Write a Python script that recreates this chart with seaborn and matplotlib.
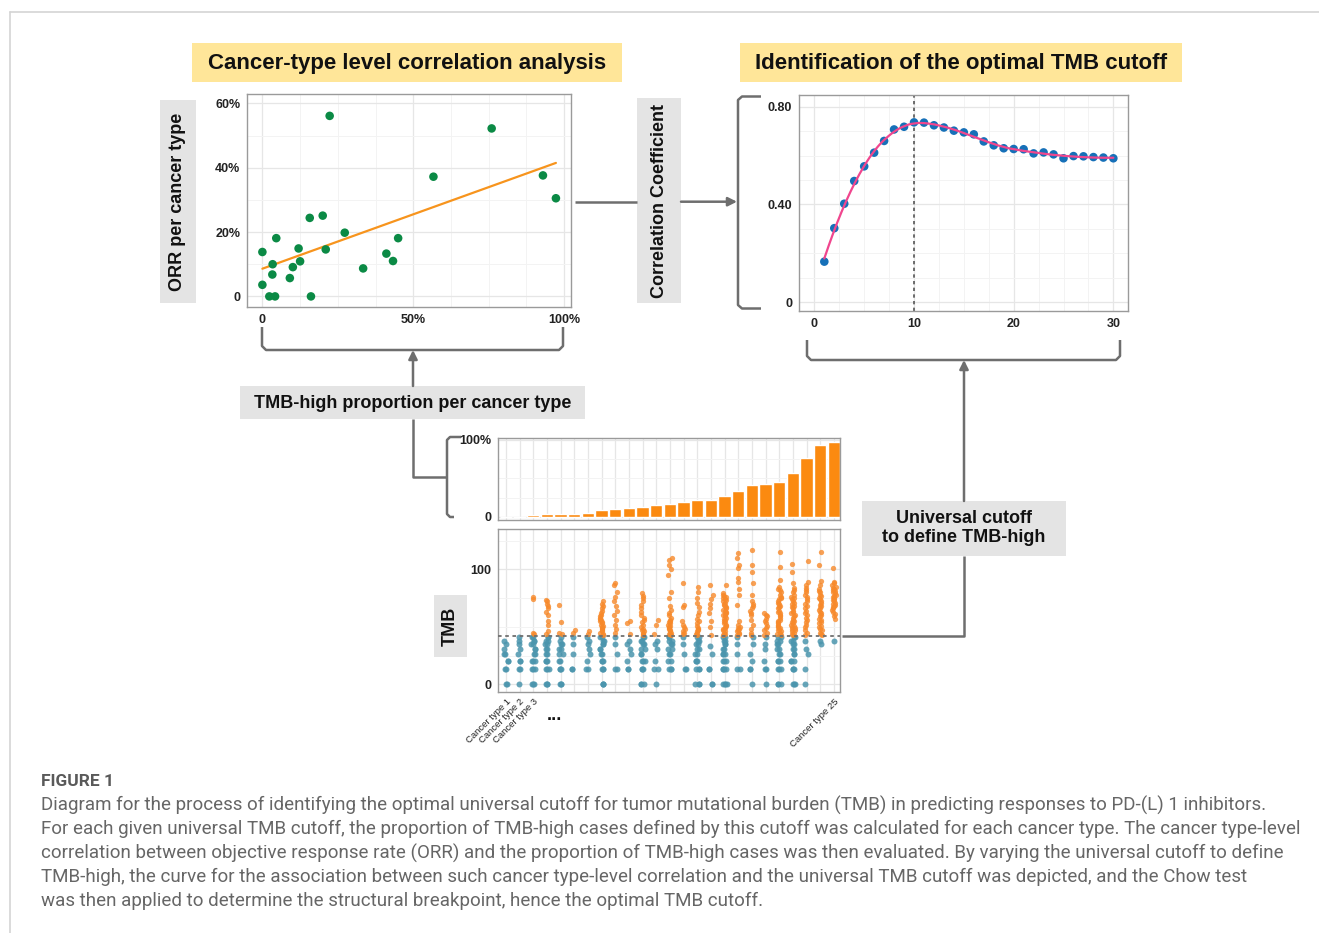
import numpy as np
import pandas as pd
import matplotlib
matplotlib.use("Agg")
import matplotlib.pyplot as plt
import matplotlib.patches as mpatches
from matplotlib.ticker import MultipleLocator, FixedLocator
import seaborn as sns

sns.set_theme(style="white")
plt.rcParams['font.family'] = ['Liberation Sans', 'DejaVu Sans']

# ---------------- data ----------------
# scatter: TMB-high proportion (%) vs ORR (%) per cancer type
tmb_high_prop = [0, 0, 2.3, 4.2, 3.4, 3.3, 4.6, 9.1, 10.1, 12.0, 12.5, 15.7, 16.1,
                 20.0, 21.0, 22.3, 27.3, 33.4, 41.1, 43.3, 45.0, 56.7, 76.0, 93.0, 97.3]
orr_per_type = [13.8, 3.6, 0, 0, 10.0, 6.8, 18.1, 5.7, 9.1, 14.9, 10.9, 24.4, 0,
                25.1, 14.6, 56.1, 19.8, 8.7, 13.3, 11.0, 18.1, 37.2, 52.2, 37.6, 30.5]

# correlation coefficient vs universal TMB cutoff
cutoffs = list(range(1, 31))
corr_coef = [0.166, 0.303, 0.403, 0.496, 0.556, 0.612, 0.660, 0.707, 0.718, 0.736,
             0.735, 0.724, 0.715, 0.702, 0.695, 0.687, 0.658, 0.642, 0.630, 0.627,
             0.626, 0.609, 0.613, 0.605, 0.589, 0.598, 0.597, 0.594, 0.592, 0.589]
optimal_cutoff = 10

# bar chart: TMB-high proportion per cancer type (%)
bar_props = [0, 0, 2.2, 3.0, 3.0, 3.9, 4.8, 8.7, 9.6, 11.7, 12.2, 15.2, 16.1,
             19.6, 21.3, 22.2, 27.0, 33.0, 41.3, 43.0, 44.8, 56.5, 76.1, 93.0, 97.0]
cancer_types = [f"Cancer type {i}" for i in range(1, 26)]
shown_labels = ["Cancer type 1", "Cancer type 2", "Cancer type 3", "Cancer type 25"]

# strip chart: TMB values per cancer type (display scale)
tmb_cut_display = 42.3
tmb_low = [
    [0, 0, 13, 13, 20, 20, 26, 26, 31, 35, 38],
    [0, 13, 13, 20, 20, 26, 31, 35, 38, 41],
    [0, 0, 0, 13, 13, 13, 20, 20, 20, 26, 26, 31, 31, 35, 35, 38, 38, 41, 41],
    [0, 0, 0, 13, 13, 13, 20, 20, 20, 26, 26, 31, 31, 35, 35, 38, 38, 41, 41],
    [0, 0, 0, 13, 13, 13, 20, 20, 26, 26, 31, 31, 35, 35, 38, 41],
    [13, 13, 26, 35, 41],
    [13, 13, 20, 26, 31, 35, 38, 41],
    [0, 0, 0, 13, 13, 13, 20, 20, 20, 26, 26, 31, 31, 35, 35, 38, 38, 41, 41],
    [13, 13, 26, 35, 41],
    [13, 13, 20, 26, 31, 35, 38],
    [0, 0, 0, 13, 13, 13, 20, 20, 20, 26, 26, 31, 31, 35, 35, 38, 38, 41, 41],
    [0, 13, 13, 20, 31, 35, 38],
    [13, 13, 13, 20, 20, 26, 26, 31, 31, 35, 35, 38, 38, 41, 41],
    [13, 13, 26, 35, 41],
    [0, 0, 0, 13, 13, 13, 20, 20, 20, 26, 26, 31, 31, 35, 35, 38, 38, 41, 41],
    [0, 0, 13, 13, 26, 33],
    [0, 0, 0, 0, 13, 13, 13, 13, 20, 20, 20, 26, 26, 26, 31, 31, 35, 35, 38, 38, 41, 41],
    [13, 13, 26, 35, 41],
    [0, 13, 13, 20, 26, 35, 41],
    [0, 13, 13, 20, 31, 35, 41],
    [0, 0, 0, 13, 13, 13, 20, 20, 20, 26, 26, 31, 31, 35, 35, 38, 38, 41, 41],
    [0, 0, 0, 13, 13, 13, 20, 20, 20, 26, 26, 31, 31, 35, 35, 38, 38, 41, 41],
    [0, 13, 26, 31, 38],
    [35, 38],
    [38],
]
tmb_high = [
    [],
    [],
    [44, 45, 74, 76],
    [44, 46, 52, 55, 60, 63, 66, 68, 70, 72, 73],
    [44, 45, 54, 69],
    [45, 47],
    [44, 46],
    [43, 44, 45, 46, 47, 48, 49, 50, 51, 52, 53, 54, 55, 56, 57, 58, 59, 60, 62, 64, 66, 68, 70, 72],
    [45, 48, 52, 56, 60, 64, 68, 72, 76, 80, 86, 88],
    [44, 53, 55],
    [43, 44, 45, 46, 47, 48, 50, 52, 54, 56, 58, 60, 63, 66, 69, 72, 75, 77, 79],
    [44, 52, 56],
    [43, 43.5, 44, 45, 46, 47, 48, 49, 50, 51, 52, 53, 54, 55, 56, 58, 60, 62, 65, 68,
     75, 80, 95, 100, 104, 108, 110],
    [44, 45, 46, 48, 50, 52, 55, 67, 69, 88],
    [43, 44, 45, 46, 47, 48, 49, 51, 53, 55, 57, 60, 63, 67, 71, 75, 80, 85],
    [43, 50, 55, 62, 66, 70, 74, 78, 86],
    [43, 44, 45, 46, 47, 48, 49, 50, 51, 52, 53, 54, 55, 56, 57, 58, 59, 60, 61, 62, 63,
     64, 65, 66, 67, 68, 69, 70, 71, 72, 73, 74, 75, 76, 77, 78, 79, 86],
    [43, 44, 45, 46, 47, 48, 49, 50, 52, 55, 69, 78, 83, 89, 92, 101, 104, 110, 114],
    [43, 45, 48, 52, 56, 60, 62, 64, 66, 68, 70, 72, 78, 88, 98, 104, 117],
    [43, 45, 47, 49, 51, 53, 55, 57, 59, 60, 62],
    [43, 44, 45, 46, 47, 48, 49, 50, 51, 52, 53, 54, 55, 56, 58, 59, 60, 62, 63, 64, 66,
     67, 68, 70, 71, 72, 74, 75, 76, 78, 80, 82, 83, 85, 91, 102, 115],
    [43, 44, 45, 46, 47, 48, 49, 50, 51, 52, 53, 54, 55, 56, 58, 59, 60, 62, 63, 64, 66,
     67, 68, 70, 71, 72, 74, 75, 76, 78, 80, 82, 84, 88, 98, 105],
    [43, 45, 47, 50, 52, 54, 56, 58, 60, 62, 64, 66, 68, 70, 72, 74, 76, 78, 80, 82, 84,
     86, 89, 107],
    [43, 44, 45, 47, 48, 50, 51, 53, 54, 56, 57, 59, 60, 62, 63, 65, 66, 68, 69, 71, 72,
     74, 75, 77, 78, 80, 81, 83, 86, 90, 104, 115],
    [57, 59, 61, 63, 65, 66, 67, 68, 69, 70, 71, 72, 73, 74, 75, 76, 77, 78, 79, 80, 81,
     82, 83, 84, 85, 86, 88, 89, 101],
]

caption_title = "FIGURE 1"
caption_lines = [
    "Diagram for the process of identifying the optimal universal cutoff for tumor mutational burden (TMB) in predicting responses to PD-(L) 1 inhibitors.",
    "For each given universal TMB cutoff, the proportion of TMB-high cases defined by this cutoff was calculated for each cancer type. The cancer type-level",
    "correlation between objective response rate (ORR) and the proportion of TMB-high cases was then evaluated. By varying the universal cutoff to define",
    "TMB-high, the curve for the association between such cancer type-level correlation and the universal TMB cutoff was depicted, and the Chow test",
    "was then applied to determine the structural breakpoint, hence the optimal TMB cutoff.",
]

# ---------------- figure ----------------
W, H = 1319, 933
fig = plt.figure(figsize=(W / 100, H / 100), dpi=100)
fig.patch.set_facecolor("white")

ov = fig.add_axes([0, 0, 1, 1])
ov.set_xlim(0, W)
ov.set_ylim(H, 0)
ov.axis("off")

def ax_px(x0, y0, x1, y1):
    return fig.add_axes([x0 / W, 1 - y1 / H, (x1 - x0) / W, (y1 - y0) / H])

GRID_MAJ = "#e6e6e6"
GRID_MIN = "#f3f3f3"
SPINE = "#9a9a9a"
TICKC = "#222222"
TICKFS = 9

def style(ax, fs=TICKFS):
    ax.set_facecolor("white")
    for s in ax.spines.values():
        s.set_color(SPINE)
        s.set_linewidth(1.0)
        s.set_visible(True)
    ax.grid(True, which="major", color=GRID_MAJ, lw=0.9)
    ax.grid(True, which="minor", color=GRID_MIN, lw=0.7)
    ax.set_axisbelow(True)
    ax.tick_params(axis="both", which="major", length=3, width=0.8, color="#777777",
                   labelsize=fs, labelcolor=TICKC, pad=2)
    ax.tick_params(axis="both", which="minor", length=0)
    for lab in ax.get_xticklabels() + ax.get_yticklabels():
        lab.set_fontweight("bold")
    ax.set_xlabel("")
    ax.set_ylabel("")

# ---- scatter panel ----
ax1 = ax_px(247.3, 94, 570.7, 306.7)
sns.regplot(x=tmb_high_prop, y=orr_per_type, scatter=False, ci=None, truncate=True,
            line_kws=dict(color="#f7941d", lw=1.6), ax=ax1)
sns.scatterplot(x=tmb_high_prop, y=orr_per_type, color="#0b8a45", s=38,
                edgecolor="none", ax=ax1, zorder=3)
ax1.set_xlim(-5.0, 102.2)
ax1.set_ylim(-3.2, 62.9)
ax1.xaxis.set_major_locator(FixedLocator([0, 50, 100]))
ax1.xaxis.set_minor_locator(MultipleLocator(12.5))
ax1.yaxis.set_major_locator(FixedLocator([0, 20, 40, 60]))
ax1.yaxis.set_minor_locator(MultipleLocator(10))
ax1.set_xticklabels(["0", "50%", "100%"])
ax1.set_yticklabels(["0", "20%", "40%", "60%"])
style(ax1)

# ---- correlation curve panel ----
def loess(x, y, span=0.45, deg=2, n=200):
    x = np.asarray(x, float); y = np.asarray(y, float)
    k = int(np.ceil(span * len(x)))
    xs = np.linspace(x.min(), x.max(), n)
    ys = []
    for x0 in xs:
        d = np.abs(x - x0)
        h = np.sort(d)[k - 1] * 1.0001
        w = np.clip(1 - (d / h) ** 3, 0, 1) ** 3
        c = np.polyfit(x, y, deg, w=np.sqrt(w))
        ys.append(np.polyval(c, x0))
    return xs, np.array(ys)

ax2 = ax_px(799, 95, 1128.3, 311)
ax2.axvline(optimal_cutoff, color="#555555", ls=(0, (2, 2)), lw=1.2, zorder=2)
sns.scatterplot(x=cutoffs, y=corr_coef, color="#1670b8", s=38, edgecolor="none",
                ax=ax2, zorder=3)
sx, sy = loess(cutoffs, corr_coef)
sns.lineplot(x=sx, y=sy, color="#f0468e", lw=1.6, ax=ax2, zorder=4)
ax2.set_xlim(-1.54, 31.5)
ax2.set_ylim(-0.036, 0.848)
ax2.xaxis.set_major_locator(FixedLocator([0, 10, 20, 30]))
ax2.xaxis.set_minor_locator(MultipleLocator(2.5))
ax2.yaxis.set_major_locator(FixedLocator([0, 0.4, 0.8]))
ax2.yaxis.set_minor_locator(MultipleLocator(0.1))
ax2.set_xticklabels(["0", "10", "20", "30"])
ax2.set_yticklabels(["0", "0.40", "0.80"])
style(ax2)

# ---- bar panel ----
ax3 = ax_px(498.3, 438.3, 840, 520)
sns.barplot(x=cancer_types, y=bar_props, color="#fb8a10", width=0.9,
            saturation=1, ax=ax3)
ax3.set_xlim(-0.56, 24.45)
ax3.set_ylim(-4.3, 102.2)
ax3.yaxis.set_major_locator(FixedLocator([0, 100]))
ax3.yaxis.set_minor_locator(MultipleLocator(25))
ax3.set_yticklabels(["0", "100%"])
ax3.set_xticklabels([""] * 25)
style(ax3)
ax3.tick_params(axis="x", length=2)

# ---- strip panel ----
rows = []
for i, ct in enumerate(cancer_types):
    for v in tmb_low[i]:
        rows.append((ct, v, "low"))
    for v in tmb_high[i]:
        rows.append((ct, v, "high"))
df = pd.DataFrame(rows, columns=["cancer", "tmb", "grp"])

ax4 = ax_px(498.3, 529, 840, 691.7)
np.random.seed(3)
sns.stripplot(data=df[df.grp == "low"], x="cancer", y="tmb", order=cancer_types,
              color="#4b95ad", jitter=0.16, size=4.3, alpha=0.85, linewidth=0, ax=ax4)
sns.stripplot(data=df[df.grp == "high"], x="cancer", y="tmb", order=cancer_types,
              color="#f7892a", jitter=0.13, size=3.8, alpha=0.8, linewidth=0, ax=ax4)
ax4.axhline(tmb_cut_display, color="#707070", ls=(0, (2, 2)), lw=1.3, zorder=5)
ax4.set_xlim(-0.56, 24.45)
ax4.set_ylim(-6.4, 135)
ax4.yaxis.set_major_locator(FixedLocator([0, 100]))
ax4.yaxis.set_minor_locator(MultipleLocator(25))
ax4.set_yticklabels(["0", "100"])
ax4.set_xticks(range(25))
ax4.set_xticklabels([c if c in shown_labels else "" for c in cancer_types],
                    rotation=45, ha="right", rotation_mode="anchor", fontsize=6.8)
style(ax4)
for lab in ax4.get_xticklabels():
    lab.set_fontweight("normal")
    lab.set_fontsize(6.8)
ax4.tick_params(axis="x", length=2)

# ---------------- overlay: boxes, texts, connectors ----------------
LC = "#6e6e6e"
LW = 1.8

# figure frame lines
ov.plot([10, W], [12, 12], color="#d4d4d4", lw=1.2)
ov.plot([10, 10], [12, H], color="#d4d4d4", lw=1.2)

def box(x0, y0, x1, y1, fc):
    ov.add_patch(mpatches.Rectangle((x0, y0), x1 - x0, y1 - y0, fc=fc, ec="none", zorder=1))

box(192, 43, 622, 82, "#ffe699")
box(740, 43, 1182, 82, "#ffe699")
ov.text(407, 63, "Cancer-type level correlation analysis", ha="center", va="center",
        fontsize=16, fontweight="bold", color="#111111", zorder=2)
ov.text(961, 63, "Identification of the optimal TMB cutoff", ha="center", va="center",
        fontsize=16, fontweight="bold", color="#111111", zorder=2)

box(160, 100, 196, 303, "#e4e4e4")
ov.text(178, 202, "ORR per cancer type", rotation=90, ha="center", va="center",
        fontsize=13, fontweight="bold", color="#111111", zorder=2)

box(637, 98, 681, 303, "#e4e4e4")
ov.text(659, 201, "Correlation Coefficient", rotation=90, ha="center", va="center",
        fontsize=13, fontweight="bold", color="#111111", zorder=2)

box(240, 386, 585, 419, "#e4e4e4")
ov.text(412.5, 403, "TMB-high proportion per cancer type", ha="center", va="center",
        fontsize=13, fontweight="bold", color="#111111", zorder=2)

box(862, 501, 1066, 556, "#e4e4e4")
ov.text(964, 528, "Universal cutoff\nto define TMB-high", ha="center", va="center",
        fontsize=13, fontweight="bold", color="#111111", linespacing=1.15, zorder=2)

box(434, 595, 467, 657, "#e4e4e4")
ov.text(450, 626, "TMB", rotation=90, ha="center", va="center",
        fontsize=13, fontweight="bold", color="#111111", zorder=2)

ov.text(554, 716, "...", ha="center", va="center", fontsize=13, fontweight="bold",
        color="#111111")

def pl(xs, ys):
    ov.plot(xs, ys, color=LC, lw=LW, solid_joinstyle="round", solid_capstyle="butt", zorder=1)

def arrow(x0, y0, x1, y1):
    ov.annotate("", xy=(x1, y1), xytext=(x0, y0),
                arrowprops=dict(arrowstyle="-|>", color=LC, lw=LW, mutation_scale=13,
                                shrinkA=0, shrinkB=0), zorder=1)

# bracket under scatter
pl([262, 262, 266, 559, 563, 563], [327, 346, 350, 350, 346, 327])
arrow(413, 386, 413, 350)
# line from box to bar bracket
pl([413, 413, 447], [419, 477, 477])
pl([461, 450, 447, 447, 450, 454], [437, 437, 440, 514, 517, 517])
# scatter -> correlation coefficient -> bracket
pl([575, 637], [201.7, 201.7])
arrow(681, 201.7, 737, 201.7)
pl([761, 742, 738, 738, 742, 761], [96.5, 96.5, 100, 305, 308.5, 308.5])
# bracket under curve
pl([807, 807, 811, 1116, 1120, 1120], [340, 356, 360, 360, 356, 340])
arrow(964, 501, 964, 360)
# universal cutoff -> threshold line
pl([964, 964, 842], [556, 635.7, 635.7])

# caption
ov.text(41, 781, caption_title, ha="left", va="center", fontsize=12.5, fontweight="bold",
        color="#5a5a5a", family=["Roboto", "DejaVu Sans"])
for k, line in enumerate(caption_lines):
    ov.text(41, 805 + 24 * k, line, ha="left", va="center", fontsize=13.5,
            color="#666666", family=["Roboto", "DejaVu Sans"])

fig.savefig("out.png", dpi=100, facecolor="white")
